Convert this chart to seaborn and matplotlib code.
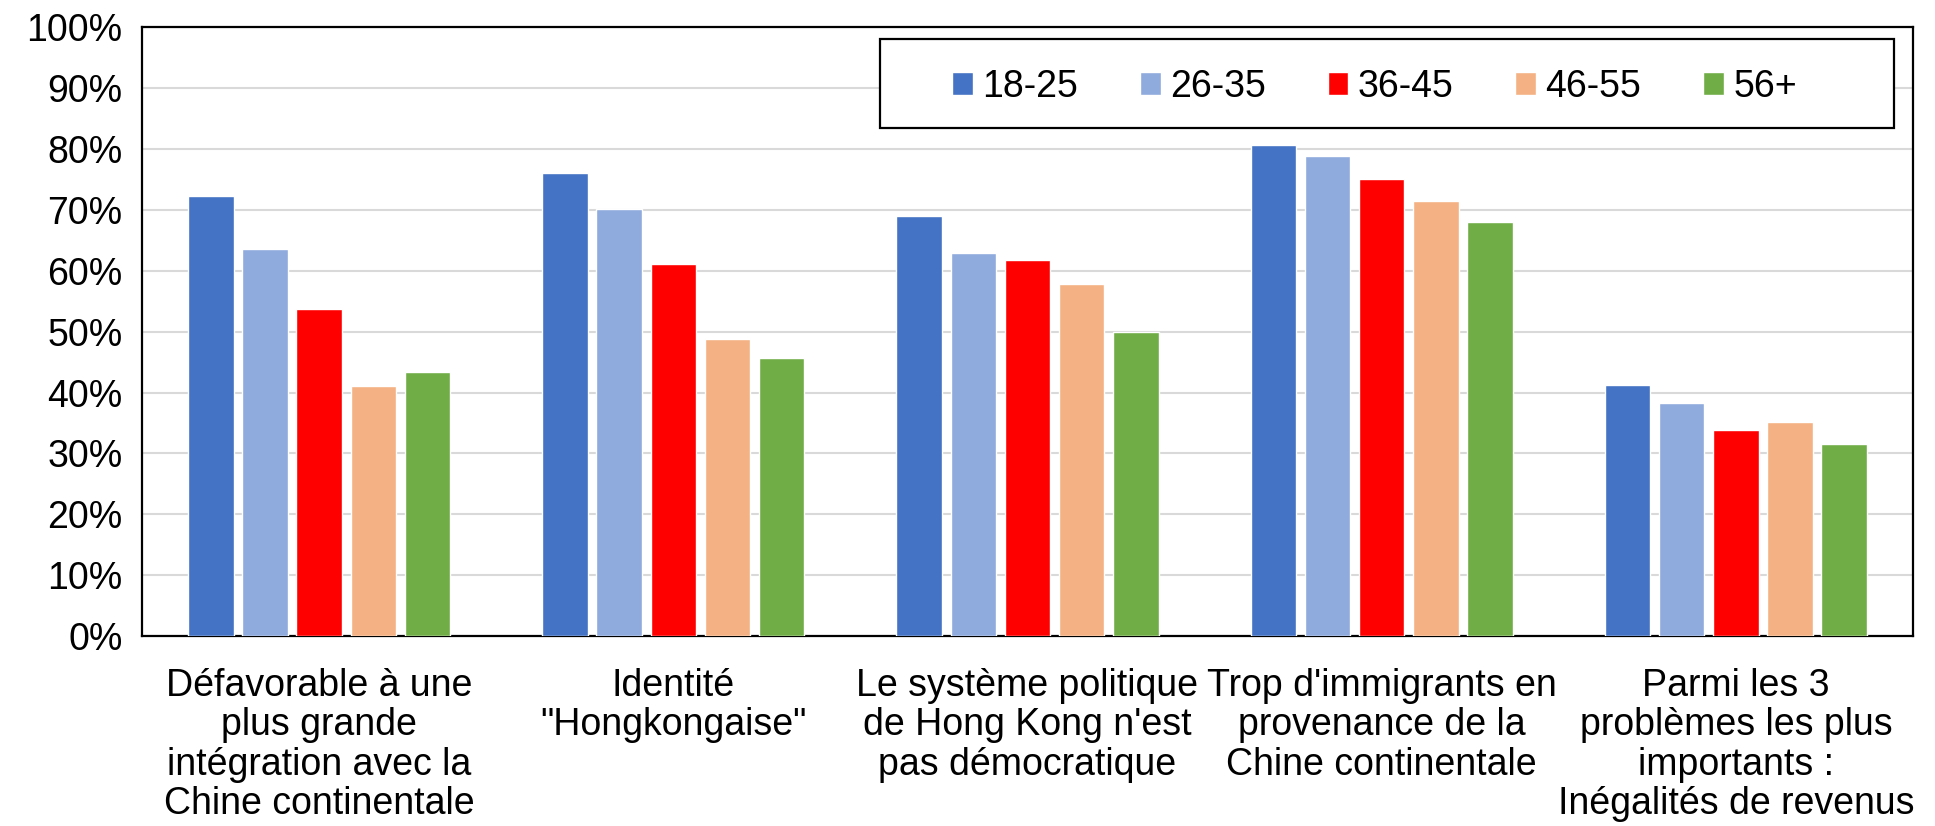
import pandas as pd
import seaborn as sns
import matplotlib.pyplot as plt
from matplotlib.patches import Rectangle
from matplotlib.ticker import PercentFormatter

# categories (x axis) and age groups
categories = ["Défavorable à une\nplus grande\nintégration avec la\nChine continentale",
              "Identité\n\"Hongkongaise\"",
              "Le système politique\nde Hong Kong n'est\npas démocratique",
              "Trop d'immigrants en\nprovenance de la\nChine continentale",
              "Parmi les 3\nproblèmes les plus\nimportants :\nInégalités de revenus"]
ages = ["18-25", "26-35", "36-45", "46-55", "56+"]

# % per age group, one list per group
v_18_25 = [72.3, 76.0, 69.0, 80.7, 41.2]
v_26_35 = [63.5, 70.1, 62.9, 78.9, 38.2]
v_36_45 = [53.8, 61.1, 61.8, 75.0, 33.8]
v_46_55 = [41.0, 48.8, 57.8, 71.4, 35.1]
v_56p = [43.3, 45.6, 50.0, 68.0, 31.6]

colors = ["#4472c4", "#8faadc", "#ff0000", "#f4b183", "#70ad47"]

rows = []
for age, vals in zip(ages, [v_18_25, v_26_35, v_36_45, v_46_55, v_56p]):
    for c, v in zip(categories, vals):
        rows.append({"cat": c, "age": age, "val": v})
df = pd.DataFrame(rows)

sns.set_style("white")
plt.rcParams['font.family'] = ['Liberation Sans', 'DejaVu Sans']
plt.rcParams['text.color'] = 'black'
plt.rcParams['xtick.color'] = 'black'
plt.rcParams['ytick.color'] = 'black'

fig = plt.figure(figsize=(19.35, 8.26), dpi=100)
ax = fig.add_axes([0.0734, 0.230, 0.9152, 0.737])

sns.barplot(data=df, x="cat", y="val", hue="age", order=categories, hue_order=ages,
            palette=colors, width=0.765, gap=0.16, saturation=1, ax=ax, zorder=3)

ax.set_ylim(0, 100)
ax.set_xlim(-0.5, len(categories) - 0.5)
ax.set_yticks(range(0, 101, 10))
ax.yaxis.set_major_formatter(PercentFormatter(decimals=0))
ax.grid(axis="y", color="#d9d9d9", linewidth=1.5, zorder=0)
ax.set_axisbelow(True)
ax.set_xlabel("")
ax.set_ylabel("")
ax.tick_params(axis="y", labelsize=27, length=0, pad=14, labelcolor="black")
ax.tick_params(axis="x", labelsize=27, length=0, pad=23, labelcolor="black")
for lab in ax.get_xticklabels():
    lab.set_linespacing(1.12)
for s in ax.spines.values():
    s.set_visible(True)
    s.set_color("black")
    s.set_linewidth(1.6)

# legend box (Excel-like, fixed size)
box = Rectangle((0.4167, 0.834), 0.5726, 0.146, transform=ax.transAxes,
                facecolor="white", edgecolor="black", linewidth=1.6, zorder=4)
ax.add_patch(box)
leg = ax.legend(loc="center", bbox_to_anchor=(0.696, 0.902), ncol=5,
                fontsize=27, frameon=False, labelcolor="black",
                handlelength=0.55, handleheight=0.55, handletextpad=0.25,
                columnspacing=1.65, borderpad=0)
leg.set_zorder(5)

fig.savefig("out.png", dpi=100)
